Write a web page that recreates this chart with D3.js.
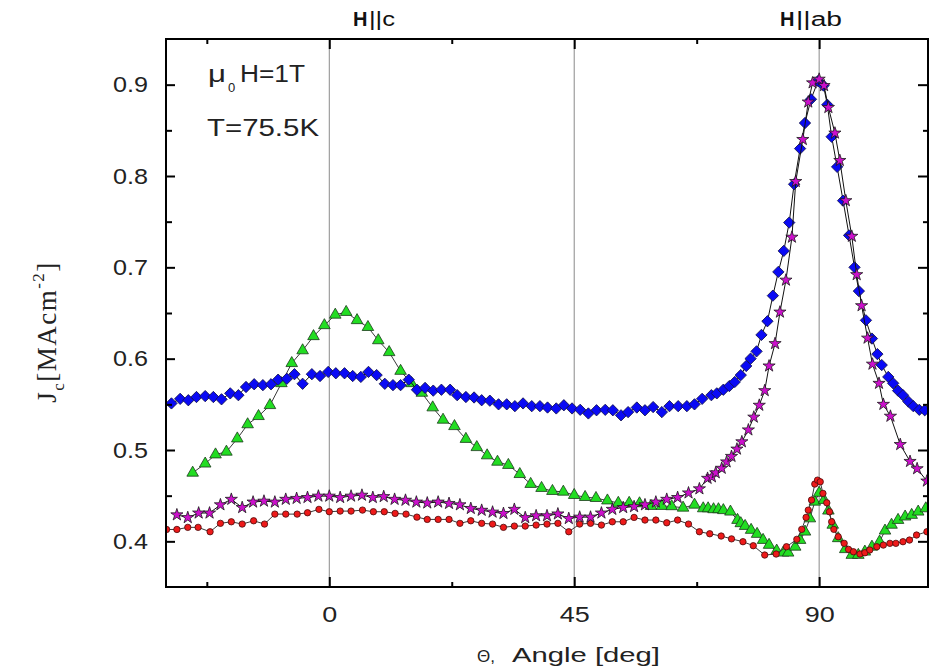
<!DOCTYPE html>
<html>
<head>
<meta charset="utf-8">
<script src="https://cdn.jsdelivr.net/npm/d3@7"></script>
<style>
  body { margin: 0; background: #fff; }
  svg { display: block; }
</style>
</head>
<body>
<svg id="chart" width="930" height="672"></svg>
<script>
// Critical current density Jc versus field angle, four measurement series.

// Blue diamonds
const blueAngle = [-29.0, -27.4, -25.9, -24.4, -22.8, -21.3, -19.8, -18.2, -16.7, -15.3, -13.8, -12.2, -10.7, -9.4, -7.8, -6.4, -4.9, -3.2, -1.7, -0.2,
  1.2, 2.8, 4.3, 5.8, 7.2, 8.7, 10.2, 11.7, 13.1, 14.6, 16.1, 17.6, 19.1, 20.6, 22.2, 23.5, 25.1, 26.6, 28.0, 29.5,
  31.1, 32.6, 34.1, 35.6, 37.2, 38.7, 40.1, 41.7, 43.1, 44.6, 46.1, 47.6, 49.1, 50.7, 52.1, 53.6, 54.9, 56.5, 58.0, 59.5,
  61.1, 62.5, 64.1, 65.7, 67.1, 68.5, 70.2, 71.2, 72.4, 73.5, 74.5, 75.6, 76.6, 77.4, 78.5, 79.4, 80.5, 81.5, 82.5, 83.5,
  84.5, 85.4, 86.5, 87.4, 88.5, 89.8, 90.8, 91.5, 92.3, 93.3, 94.4, 95.5, 96.5, 97.3, 98.6, 99.7, 100.7, 101.5, 102.7, 103.6,
  104.5, 105.4, 106.4, 107.3, 108.4, 109.4];
const blueJc = [0.551, 0.556, 0.5545, 0.558, 0.559, 0.558, 0.5555, 0.562, 0.560, 0.569, 0.572, 0.571, 0.572, 0.577, 0.578, 0.583, 0.5725, 0.583, 0.581, 0.5855,
  0.584, 0.584, 0.581, 0.580, 0.5855, 0.582, 0.5725, 0.571, 0.571, 0.577, 0.566, 0.568, 0.565, 0.566, 0.566, 0.560, 0.558, 0.5575, 0.5545, 0.554,
  0.550, 0.550, 0.548, 0.551, 0.548, 0.548, 0.5465, 0.5455, 0.549, 0.5455, 0.544, 0.540, 0.5435, 0.544, 0.5435, 0.538, 0.5415, 0.5465, 0.5435, 0.547,
  0.5415, 0.548, 0.548, 0.548, 0.550, 0.556, 0.560, 0.562, 0.566, 0.570, 0.5745, 0.582, 0.592, 0.600, 0.608, 0.626, 0.641, 0.669, 0.695, 0.718,
  0.749, 0.791, 0.830, 0.858, 0.884, 0.904, 0.899, 0.878, 0.843, 0.810, 0.773, 0.735, 0.700, 0.674, 0.642, 0.622, 0.605, 0.593, 0.580, 0.573,
  0.565, 0.560, 0.553, 0.548, 0.544, 0.5435];

// Magenta stars
const starAngle = [-28, -26, -24, -22, -20, -18, -16, -14, -12, -10, -8, -6, -4, -2, 0, 2, 4, 6, 8, 10,
  12, 14, 16, 18, 20, 22, 24, 26, 28, 30, 32, 34, 36, 38, 40, 42, 44, 46, 48, 50,
  52, 54, 56, 58, 60, 62, 64, 66, 68, 69.5, 70.3, 71.0, 72.1, 73.0, 73.9, 74.9, 75.8, 77.0, 78.0, 79.0,
  80.0, 80.8, 81.9, 82.8, 83.9, 85.0, 85.7, 87.0, 88.0, 88.8, 90.0, 90.9, 91.7, 92.9, 93.8, 94.9, 96.0, 96.9, 97.8, 98.9,
  99.8, 101.0, 101.8, 103.1, 104.9, 106.7, 108.0, 109.8];
const starJc = [0.429, 0.426, 0.431, 0.431, 0.440, 0.446, 0.437, 0.443, 0.444, 0.443, 0.446, 0.447, 0.448, 0.4495, 0.4495, 0.448, 0.4495, 0.4505, 0.448, 0.449,
  0.446, 0.445, 0.443, 0.442, 0.443, 0.4415, 0.440, 0.436, 0.434, 0.432, 0.4305, 0.435, 0.426, 0.428, 0.428, 0.430, 0.425, 0.4265, 0.4265, 0.431,
  0.435, 0.437, 0.438, 0.440, 0.443, 0.446, 0.448, 0.453, 0.4575, 0.469, 0.4706, 0.475, 0.480, 0.487, 0.493, 0.501, 0.509, 0.522, 0.536, 0.549,
  0.565, 0.592, 0.6165, 0.651, 0.686, 0.733, 0.794, 0.840, 0.881, 0.902, 0.906, 0.899, 0.875, 0.847, 0.817, 0.773, 0.734, 0.692, 0.658, 0.6225,
  0.594, 0.573, 0.550, 0.537, 0.506, 0.4875, 0.4795, 0.466];

// Green triangles
const greenAngle = [-25.1, -22.8, -20.9, -18.9, -16.9, -15.0, -13.0, -10.9, -8.8, -6.9, -4.9, -2.9, -0.9, 1.1, 3.1, 5.1, 7.1, 9.0, 11.0, 13.1,
  15.1, 17.0, 19.0, 20.9, 23.0, 25.1, 27.1, 29.0, 30.9, 32.9, 35.0, 37.0, 39.0, 41.0, 43.0, 45.0, 47.0, 49.0, 51.1, 53.1,
  55.1, 57.0, 59.1, 61.1, 62.9, 65.0, 67.1, 68.7, 69.6, 70.6, 71.5, 72.4, 73.7, 75.0, 75.6, 76.4, 77.5, 78.6, 79.7, 80.8,
  82.2, 83.4, 84.3, 85.6, 86.5, 87.4, 88.3, 89.2, 90.0, 90.9, 91.7, 92.5, 93.5, 94.8, 96.0, 97.2, 98.4, 99.7, 101.1, 102.1,
  103.3, 104.5, 105.8, 107.0, 108.2, 109.6];
const greenJc = [0.475, 0.485, 0.495, 0.498, 0.5125, 0.528, 0.537, 0.549, 0.573, 0.595, 0.609, 0.6245, 0.6365, 0.648, 0.651, 0.642, 0.6345, 0.620, 0.607, 0.5865,
  0.573, 0.5625, 0.5465, 0.533, 0.526, 0.512, 0.503, 0.494, 0.487, 0.4835, 0.4735, 0.4627, 0.4583, 0.455, 0.4542, 0.4506, 0.4484, 0.4473, 0.4446, 0.442,
  0.442, 0.4415, 0.4386, 0.4386, 0.4383, 0.4367, 0.440, 0.436, 0.436, 0.435, 0.435, 0.434, 0.4324, 0.4233, 0.4197, 0.4167, 0.4124, 0.408, 0.4014, 0.396,
  0.3897, 0.3875, 0.3875, 0.394, 0.4014, 0.4105, 0.425, 0.4433, 0.453, 0.4452, 0.4335, 0.418, 0.4033, 0.3913, 0.385, 0.385, 0.3886, 0.394, 0.3996, 0.4116,
  0.418, 0.4233, 0.427, 0.4288, 0.4324, 0.436];

// Red circles
const redAngle = [-29.9, -28.0, -26.0, -24.1, -21.9, -20.0, -18.0, -16.0, -13.9, -11.9, -10.0, -8.0, -5.9, -4.0, -1.9, 0, 2.0, 4.0, 6.1, 8.1,
  10.1, 12.1, 14.1, 16.1, 18, 20, 22, 24, 26, 28, 30, 32, 34, 36, 38, 40, 42, 44, 46, 48,
  50, 52, 54, 56, 58, 60, 62, 64, 66, 68, 69.9, 72.0, 73.9, 76.0, 77.9, 80.0, 82.1, 84.0, 85.9, 86.8,
  87.6, 88.0, 88.6, 89.2, 89.7, 90.2, 90.7, 91.4, 91.9, 92.3, 92.7, 93.5, 94.6, 95.4, 96.3, 97.5, 98.4, 99.3, 100.6, 101.8,
  103.0, 104.1, 105.4, 106.6, 107.9, 109.8];
const redJc = [0.413, 0.413, 0.4153, 0.4153, 0.4105, 0.4197, 0.4214, 0.4189, 0.4225, 0.4189, 0.4298, 0.4298, 0.4298, 0.4313, 0.435, 0.4324, 0.4331, 0.4331, 0.4342, 0.4324,
  0.4324, 0.4306, 0.4298, 0.4265, 0.424, 0.424, 0.424, 0.4197, 0.4225, 0.4197, 0.4189, 0.4153, 0.4167, 0.4167, 0.4178, 0.4189, 0.4197, 0.4105, 0.4189, 0.4197,
  0.4178, 0.4214, 0.4214, 0.4262, 0.4233, 0.4233, 0.4203, 0.4233, 0.4189, 0.4105, 0.4083, 0.4058, 0.4027, 0.3996, 0.3952, 0.385, 0.3861, 0.3941, 0.4022, 0.4131,
  0.4262, 0.4342, 0.4452, 0.4627, 0.467, 0.4652, 0.4525, 0.4422, 0.4324, 0.4214, 0.4131, 0.405, 0.3978, 0.3912, 0.3886, 0.3861, 0.3875, 0.3905, 0.3941, 0.3959,
  0.3978, 0.3978, 0.3996, 0.4014, 0.4069, 0.4105];

// Axis ticks
const xMajorTicks = [0, 45, 90];
const xMinorTicks = [-22.5, 22.5, 67.5];
const yMajorTicks = [0.4, 0.5, 0.6, 0.7, 0.8, 0.9];
const yMinorTicks = [0.45, 0.55, 0.65, 0.75, 0.85];
const xReferenceLines = [0, 45, 90];

const svg = d3.select("#chart");
const plotL = 166, plotR = 928, plotT = 39, plotB = 587;

const x = d3.scaleLinear().domain([-30, 110]).range([plotL, plotR]);
const y = d3.scaleLinear().domain([0.35, 0.95]).range([plotB, plotT]);

svg.append("defs").append("clipPath").attr("id", "plotArea")
  .append("rect").attr("x", plotL).attr("y", plotT)
  .attr("width", plotR - plotL).attr("height", plotB - plotT);

// Reference lines at H||c, 45 deg and H||ab
svg.append("g").selectAll("line").data(xReferenceLines).join("line")
  .attr("x1", d => x(d)).attr("x2", d => x(d))
  .attr("y1", plotT).attr("y2", plotB)
  .attr("stroke", "#8a8a8a").attr("stroke-width", 1);

const plot = svg.append("g").attr("clip-path", "url(#plotArea)");

function zip(a, b) { return a.map((v, i) => [v, b[i]]); }

const seriesList = [
  { pts: zip(greenAngle, greenJc), symbol: d3.symbolTriangle, size: 58, rotate: 0, fill: "#22dd22", stroke: "#1a3a1a", line: "#3a3a3a" },
  { pts: zip(redAngle, redJc), symbol: d3.symbolCircle, size: 32, rotate: 0, fill: "#ee1a1a", stroke: "#4a0a0a", line: "#3a3a3a" },
  { pts: zip(blueAngle, blueJc), symbol: d3.symbolSquare, size: 64, rotate: 45, fill: "#0a0af5", stroke: "#10104a", line: "#111" },
  { pts: zip(starAngle, starJc), symbol: d3.symbolStar, size: 46, rotate: 0, fill: "#cc10cc", stroke: "#1a1a1a", line: "#111" }
];

const lineGen = d3.line().x(d => x(d[0])).y(d => y(d[1]));

seriesList.forEach(s => {
  const g = plot.append("g");
  g.append("path").datum(s.pts)
    .attr("d", lineGen).attr("fill", "none")
    .attr("stroke", s.line).attr("stroke-width", 1);
  g.selectAll("path.mk").data(s.pts).join("path").attr("class", "mk")
    .attr("d", d3.symbol().type(s.symbol).size(s.size))
    .attr("transform", d => `translate(${x(d[0])},${y(d[1])}) rotate(${s.rotate})`)
    .attr("fill", s.fill).attr("stroke", s.stroke).attr("stroke-width", 0.8);
});

// Axes with inward ticks on all four sides
const fontSans = "'Liberation Sans', Arial, sans-serif";

function styleAxis(g) {
  g.select(".domain").remove();
  g.selectAll(".tick line").attr("stroke", "#000").attr("stroke-width", 2);
}

const gBottom = svg.append("g").attr("transform", `translate(0,${plotB})`)
  .call(d3.axisBottom(x).tickValues(xMajorTicks).tickSize(-10).tickPadding(19).tickFormat(d3.format("d")));
styleAxis(gBottom);
gBottom.selectAll("text").attr("font-family", fontSans).attr("font-size", 22).attr("fill", "#222")
  .attr("textLength", d => String(d).length * 15).attr("lengthAdjust", "spacingAndGlyphs");
svg.append("g").attr("transform", `translate(0,${plotB})`)
  .call(d3.axisBottom(x).tickValues(xMinorTicks).tickSize(-5).tickFormat("")).call(styleAxis);

svg.append("g").attr("transform", `translate(0,${plotT})`)
  .call(d3.axisTop(x).tickValues(xMajorTicks).tickSize(-10).tickFormat("")).call(styleAxis);
svg.append("g").attr("transform", `translate(0,${plotT})`)
  .call(d3.axisTop(x).tickValues(xMinorTicks).tickSize(-5).tickFormat("")).call(styleAxis);

const gLeft = svg.append("g").attr("transform", `translate(${plotL},0)`)
  .call(d3.axisLeft(y).tickValues(yMajorTicks).tickSize(-9).tickPadding(18).tickFormat(d3.format(".1f")));
styleAxis(gLeft);
gLeft.selectAll("text").attr("font-family", fontSans).attr("font-size", 22).attr("fill", "#222")
  .attr("textLength", 35).attr("lengthAdjust", "spacingAndGlyphs");
svg.append("g").attr("transform", `translate(${plotL},0)`)
  .call(d3.axisLeft(y).tickValues(yMinorTicks).tickSize(-6).tickFormat("")).call(styleAxis);

svg.append("g").attr("transform", `translate(${plotR},0)`)
  .call(d3.axisRight(y).tickValues(yMajorTicks).tickSize(-10).tickFormat("")).call(styleAxis);
svg.append("g").attr("transform", `translate(${plotR},0)`)
  .call(d3.axisRight(y).tickValues(yMinorTicks).tickSize(-5).tickFormat("")).call(styleAxis);

// Frame
svg.append("rect").attr("x", plotL).attr("y", plotT)
  .attr("width", plotR - plotL).attr("height", plotB - plotT)
  .attr("fill", "none").attr("stroke", "#000").attr("stroke-width", 2);

// Field direction labels above the frame
function dirLabel(xPos, rest, restLen) {
  svg.append("text").attr("x", xPos).attr("y", 26)
    .attr("font-family", fontSans).attr("font-size", 20).attr("font-weight", "bold").attr("fill", "#111")
    .text("H");
  svg.append("text").attr("x", xPos + 16).attr("y", 26)
    .attr("font-family", fontSans).attr("font-size", 20).attr("fill", "#111")
    .attr("textLength", restLen).attr("lengthAdjust", "spacingAndGlyphs")
    .text(rest);
}
dirLabel(353, "||c", 26);
dirLabel(780, "||ab", 46);

// Conditions
svg.append("text").attr("x", 208).attr("y", 82)
  .attr("font-family", fontSans).attr("font-size", 23).attr("fill", "#222")
  .attr("textLength", 18).attr("lengthAdjust", "spacingAndGlyphs").text("μ");
svg.append("text").attr("x", 228).attr("y", 92)
  .attr("font-family", fontSans).attr("font-size", 13).attr("fill", "#222").text("0");
svg.append("text").attr("x", 240).attr("y", 82)
  .attr("font-family", fontSans).attr("font-size", 23).attr("fill", "#222")
  .attr("textLength", 65).attr("lengthAdjust", "spacingAndGlyphs").text("H=1T");
svg.append("text").attr("x", 207).attr("y", 136)
  .attr("font-family", fontSans).attr("font-size", 23).attr("fill", "#222")
  .attr("textLength", 112).attr("lengthAdjust", "spacingAndGlyphs").text("T=75.5K");

// X axis title
svg.append("text").attr("x", 477).attr("y", 662)
  .attr("font-family", fontSans).attr("font-size", 17).attr("fill", "#222").text("Θ,");
svg.append("text").attr("x", 512).attr("y", 662)
  .attr("font-family", fontSans).attr("font-size", 21).attr("fill", "#222")
  .attr("textLength", 148).attr("lengthAdjust", "spacingAndGlyphs").text("Angle [deg]");

// Y axis title
const yTitle = svg.append("text")
  .attr("transform", "translate(56,332) rotate(-90)")
  .attr("text-anchor", "middle")
  .attr("font-family", "'Liberation Serif', 'Times New Roman', serif")
  .attr("font-size", 27).attr("fill", "#222").attr("letter-spacing", 1.5);
yTitle.append("tspan").text("J");
yTitle.append("tspan").attr("font-size", 17).attr("dy", 8).text("c");
yTitle.append("tspan").attr("dy", -8).text("[MAcm");
yTitle.append("tspan").attr("font-size", 17).attr("dy", -12).text("-2");
yTitle.append("tspan").attr("dy", 12).text("]");
</script>
</body>
</html>
